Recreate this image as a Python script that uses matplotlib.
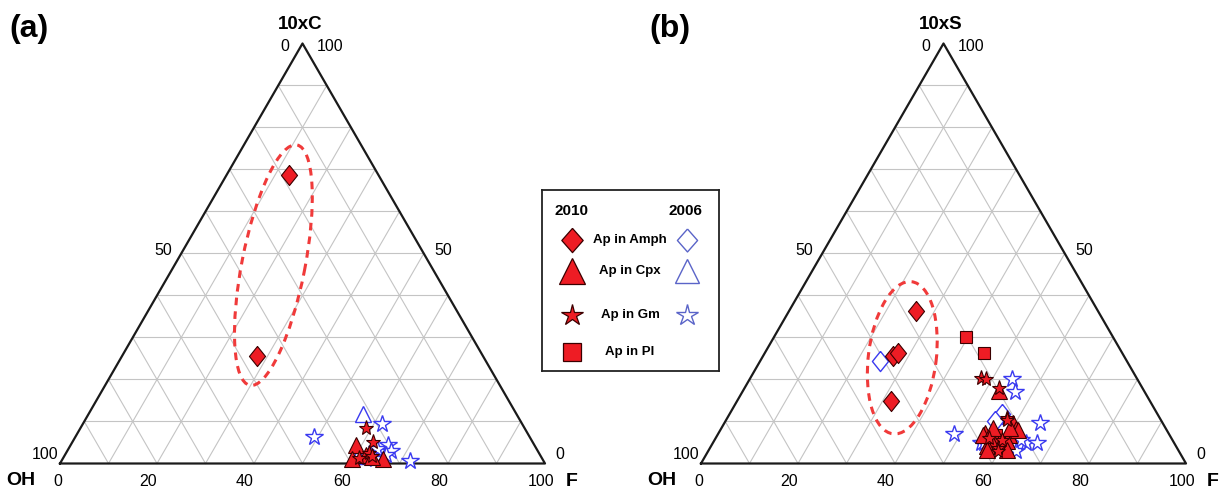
import math

import matplotlib.pyplot as plt
from matplotlib.patches import Ellipse

plt.rcParams['font.family'] = ['Liberation Sans', 'DejaVu Sans']

H = math.sqrt(3) / 2
RED = '#ee1c24'
BLUE = '#3a3af0'
DIAMOND = [(0, 1), (0.8, 0), (0, -1), (-0.8, 0), (0, 1)]
WIDE_DIAMOND = [(0, 1), (0.88, 0), (0, -1), (-0.88, 0), (0, 1)]

# panel (a): F and 10xC, OH = 100 - F - C
a_amph_2010_f = [12.9, 27.9]
a_amph_2010_c = [68.7, 25.5]
a_cpx_2010_f = [58.7, 59.8, 66.0, 62.0, 63.5]
a_cpx_2010_c = [4.5, 1.0, 1.0, 2.1, 1.5]
a_gm_2010_f = [58.8, 61.9, 62.4, 63.5, 61.0]
a_gm_2010_c = [8.5, 5.1, 2.6, 1.7, 1.2]
a_cpx_2006_f = [56.6, 60.5, 63.0]
a_cpx_2006_c = [11.7, 1.7, 3.0]
a_gm_2006_f = [49.1, 61.7, 65.4, 66.7, 66.1, 71.9, 63.7, 64.5]
a_gm_2006_c = [6.4, 9.5, 4.5, 2.9, 2.1, 0.5, 3.5, 1.0]

# panel (b): F and 10xS, OH = 100 - F - S
b_amph_2010_f = [26.1, 26.8, 27.4, 31.8]
b_amph_2010_s = [36.4, 25.5, 26.4, 14.8]
b_amph_2006_f = [24.8, 56.3, 55.5]
b_amph_2006_s = [24.3, 11.7, 10.2]
b_pl_2010_f = [39.6, 45.2, 57.3, 56.9]
b_pl_2010_s = [30.0, 26.4, 6.9, 6.4]
b_gm_2010_f = [47.5, 48.7, 52.4, 57.7, 59.3, 56.3, 59.3, 59.7, 57.8]
b_gm_2010_s = [20.4, 20.0, 18.0, 10.9, 3.7, 6.1, 5.7, 2.9, 10.4]
b_cpx_2010_f = [52.8, 59.4, 60.8, 55.0, 60.0, 57.6, 60.5, 57.0, 61.4, 59.9,
                54.7, 56.1, 59.5, 61.4, 57.3]
b_cpx_2010_s = [17.2, 9.7, 8.1, 7.3, 6.9, 4.9, 5.3, 4.1, 8.0, 4.4,
                6.8, 8.4, 8.4, 3.2, 3.2]
b_gm_2006_f = [54.1, 56.2, 65.0, 48.6, 55.2, 63.5, 64.5, 66.9, 63.1, 55.9]
b_gm_2006_s = [20.0, 17.1, 9.7, 7.1, 4.9, 2.9, 4.9, 4.8, 5.7, 4.9]

side_ticks = [0, 50, 100]
base_ticks = [0, 20, 40, 60, 80, 100]

legend_labels = ['Ap in Amph', 'Ap in Cpx', 'Ap in Gm', 'Ap in Pl']
legend_markers = [WIDE_DIAMOND, '^', '*', 's']
legend_has_2006 = [True, True, True, False]


def to_xy(f, c):
    x = [fi + ci / 2 for fi, ci in zip(f, c)]
    y = [ci * H for ci in c]
    return x, y


def draw_frame(ax, top_label, panel_label):
    for v in range(10, 100, 10):
        # constant top component
        ax.plot([v / 2, 100 - v / 2], [v * H, v * H], color='#c4c4c4', lw=0.8, zorder=1)
        # constant F
        ax.plot([v, v + (100 - v) / 2], [0, (100 - v) * H], color='#c4c4c4', lw=0.8, zorder=1)
        # constant OH
        ax.plot([100 - v, (100 - v) / 2], [0, (100 - v) * H], color='#c4c4c4', lw=0.8, zorder=1)
    ax.plot([0, 100, 50, 0], [0, 0, 100 * H, 0], color='#1a1a1a', lw=1.6, zorder=2)

    left_off = {100: (-3.1, 1.8), 50: (-3.8, 0.7), 0: (-3.6, -0.7)}
    right_off = {100: (5.7, -0.7), 50: (4.0, 0.7), 0: (3.1, 1.8)}
    for v in side_ticks:
        c = 100 - v
        dx, dy = left_off[v]
        ax.text(c / 2 + dx, c * H + dy, str(v), ha='center', va='center', fontsize=11.5)
        dx, dy = right_off[v]
        ax.text(100 - v / 2 + dx, v * H + dy, str(v), ha='center', va='center', fontsize=11.5)
    for v in base_ticks:
        shift = 0.4 if v == 0 else (0.8 if v == 100 else 1.9)
        ax.text(v - shift, -3.8, str(v), ha='center', va='center', fontsize=11.5)

    ax.text(49.5, 90.6, top_label, ha='center', va='center', fontsize=13.5, fontweight='bold')
    ax.text(-8.0, -3.5, 'OH', ha='center', va='center', fontsize=14, fontweight='bold')
    ax.text(105.6, -3.7, 'F', ha='center', va='center', fontsize=14, fontweight='bold')
    ax.text(-6.4, 89.6, panel_label, ha='center', va='center', fontsize=23, fontweight='bold')

    ax.set_xlim(-12, 112)
    ax.set_ylim(-6, 95)
    ax.set_aspect('equal')
    ax.axis('off')


def filled(ax, f, c, marker, ms):
    x, y = to_xy(f, c)
    ax.plot(x, y, ls='none', marker=marker, ms=ms, mfc=RED, mec='#3a0000', mew=0.8, zorder=4)


def hollow(ax, f, c, marker, ms):
    x, y = to_xy(f, c)
    ax.plot(x, y, ls='none', marker=marker, ms=ms, mfc='white', mec=BLUE, mew=1.0, zorder=3)


fig = plt.figure(figsize=(12.25, 4.94), dpi=100)
px = 4.85
ax_a = fig.add_axes([(60 - 12 * px) / 1225, (30.5 - 6 * px) / 494, 124 * px / 1225, 101 * px / 494])
ax_b = fig.add_axes([(701 - 12 * px) / 1225, (30.5 - 6 * px) / 494, 124 * px / 1225, 101 * px / 494])

draw_frame(ax_a, '10xC', '(a)')
hollow(ax_a, a_cpx_2006_f, a_cpx_2006_c, '^', 11)
hollow(ax_a, a_gm_2006_f, a_gm_2006_c, '*', 13)
filled(ax_a, a_amph_2010_f, a_amph_2010_c, DIAMOND, 14.5)
filled(ax_a, a_cpx_2010_f, a_cpx_2010_c, '^', 11.5)
filled(ax_a, a_gm_2010_f, a_gm_2010_c, '*', 11)
ax_a.add_patch(Ellipse((44.0, 40.9), 50.5, 13, angle=78.9, fill=False, ec='#f03a3a',
                       lw=2.2, ls=(0, (2.5, 2)), zorder=5))

draw_frame(ax_b, '10xS', '(b)')
hollow(ax_b, b_amph_2006_f, b_amph_2006_s, DIAMOND, 14.5)
hollow(ax_b, b_gm_2006_f, b_gm_2006_s, '*', 13)
filled(ax_b, b_amph_2010_f, b_amph_2010_s, DIAMOND, 14.5)
filled(ax_b, b_pl_2010_f, b_pl_2010_s, 's', 8.6)
filled(ax_b, b_cpx_2010_f, b_cpx_2010_s, '^', 11.5)
filled(ax_b, b_gm_2010_f, b_gm_2010_s, '*', 11)
ax_b.add_patch(Ellipse((41.5, 21.8), 31.6, 14, angle=83, fill=False, ec='#f03a3a',
                       lw=2.2, ls=(0, (2.5, 2)), zorder=5))

# legend box
ax_l = fig.add_axes([542 / 1225, 123 / 494, 177 / 1225, 181 / 494])
ax_l.set_xlim(0, 177)
ax_l.set_ylim(181, 0)
ax_l.set_xticks([])
ax_l.set_yticks([])
for sp in ax_l.spines.values():
    sp.set_linewidth(1.3)
    sp.set_color('#222222')
row_y = [50, 80.7, 125, 161.7]
filled_ms = [17.5, 19, 16, 12.5]
hollow_ms = [16.5, 17.5, 16]
ax_l.text(12.3, 20.7, '2010', ha='left', va='center', fontsize=11, fontweight='bold')
ax_l.text(160, 20.7, '2006', ha='right', va='center', fontsize=11, fontweight='bold')
for i, label in enumerate(legend_labels):
    ax_l.plot([29.7], [row_y[i]], marker=legend_markers[i], ms=filled_ms[i], mfc=RED,
              mec='#3a0000', mew=0.9, ls='none')
    ax_l.text(88, row_y[i], label, ha='center', va='center', fontsize=9.5, fontweight='bold')
    if legend_has_2006[i]:
        ax_l.plot([144.7], [row_y[i]], marker=legend_markers[i], ms=hollow_ms[i], mfc='white',
                  mec='#5a64c8', mew=1.0, ls='none')

fig.savefig('out.png', dpi=100)
